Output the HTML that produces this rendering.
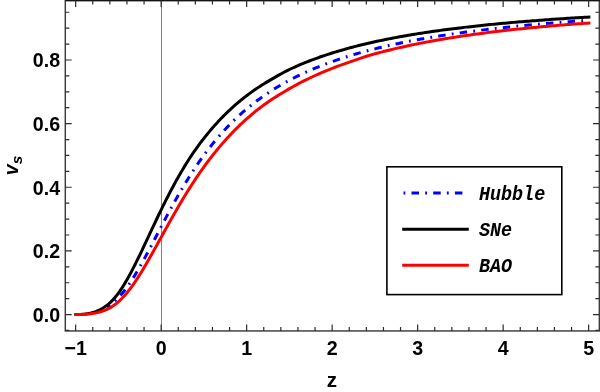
<!DOCTYPE html>
<html><head><meta charset="utf-8"><title>v_s vs z</title>
<style>
html,body{margin:0;padding:0;background:#fff;}
svg{display:block;}
text{font-family:"Liberation Sans",sans-serif;}
.m text{font-family:"Liberation Mono",monospace;}
</style></head>
<body>
<svg width="600" height="392" viewBox="0 0 600 392">
<rect x="0" y="0" width="600" height="392" fill="#ffffff"/>
<line x1="161.5" y1="0.50" x2="161.5" y2="330.95" stroke="#4a4a4a" stroke-width="0.7"/>
<g fill="none" stroke-width="3" stroke-linejoin="round">
<path d="M107.06 307.15 L107.78 306.68 L108.51 306.19 L109.23 305.67 L109.96 305.14 L110.68 304.58 L111.40 303.99 L112.13 303.38 L112.85 302.81 L113.58 302.21 L114.30 301.59 L115.03 300.95 L115.75 300.29 L116.48 299.60 L117.20 298.90 L117.93 298.17 L118.65 297.42 L119.73 296.26 L120.81 295.05 L121.88 293.79 L122.96 292.49 L124.04 291.14 L125.12 289.75 L126.19 288.31 L127.27 286.83 L128.35 285.31 L129.43 283.74 L130.51 282.14 L131.58 280.50 L132.66 278.82 L133.74 277.10 L134.82 275.36 L135.89 273.58 L136.97 271.77 L138.05 269.93 L139.13 268.06 L140.20 266.17 L141.28 264.26 L142.36 262.33 L143.44 260.37 L144.52 258.40 L145.59 256.41 L146.67 254.40 L147.75 252.38 L148.83 250.35 L149.90 248.31 L150.98 246.26 L152.06 244.20 L153.14 242.14 L154.22 240.08 L155.29 238.01 L156.37 235.94 L157.45 233.86 L158.53 231.79 L159.60 229.73 L160.68 227.66 L161.76 225.60 L162.84 223.55 L163.91 221.50 L164.99 219.46 L166.07 217.42 L167.15 215.40 L168.23 213.38 L169.30 211.38 L170.38 209.39 L171.46 207.41 L172.54 205.44 L173.61 203.49 L174.69 201.54 L175.77 199.62 L176.85 197.70 L177.93 195.81 L179.00 193.93 L180.08 192.06 L181.16 190.21 L182.24 188.38 L183.31 186.56 L184.39 184.76 L185.47 182.98 L186.55 181.21 L187.62 179.46 L188.70 177.73 L189.78 176.02 L190.86 174.32 L191.94 172.64 L193.01 170.98 L194.09 169.34 L195.17 167.72 L196.25 166.11 L197.32 164.52 L198.40 162.95 L199.48 161.40 L200.56 159.86 L201.64 158.35 L202.71 156.85 L203.79 155.36 L204.87 153.90 L205.95 152.45 L207.02 151.02 L208.10 149.61 L209.18 148.21 L210.26 146.83 L211.33 145.47 L212.41 144.12 L213.49 142.79 L214.57 141.47 L215.65 140.18 L216.72 138.89 L217.80 137.63 L218.88 136.38 L219.96 135.14 L221.03 133.92 L222.11 132.71 L223.19 131.52 L224.27 130.35 L225.35 129.19 L226.42 128.04 L227.50 126.91 L228.58 125.79 L229.66 124.68 L230.73 123.59 L231.81 122.51 L232.89 121.45 L233.97 120.39 L235.04 119.36 L236.12 118.33 L237.20 117.32 L238.28 116.32 L239.36 115.33 L240.43 114.35 L241.51 113.39 L242.59 112.43 L243.67 111.49 L244.74 110.56 L245.82 109.64 L246.90 108.73 L249.05 106.96 L251.20 105.22 L253.35 103.53 L255.50 101.87 L257.65 100.25 L259.81 98.68 L261.96 97.13 L264.11 95.63 L266.26 94.16 L268.41 92.72 L270.56 91.32 L272.71 89.94 L274.86 88.60 L277.01 87.29 L279.16 86.01 L281.32 84.75 L283.47 83.52 L285.62 82.32 L287.77 81.15 L289.92 80.00 L292.07 78.88 L294.22 77.77 L296.37 76.70 L298.52 75.64 L300.67 74.61 L302.82 73.60 L304.98 72.60 L307.13 71.63 L309.28 70.68 L311.43 69.75 L313.58 68.84 L315.73 67.94 L317.88 67.06 L320.03 66.20 L322.18 65.36 L324.33 64.53 L326.48 63.72 L328.64 62.92 L330.79 62.14 L332.94 61.37 L335.09 60.62 L337.24 59.88 L339.39 59.15 L341.54 58.44 L343.69 57.74 L345.84 57.05 L347.99 56.38 L350.15 55.72 L352.30 55.07 L354.45 54.43 L356.60 53.80 L358.75 53.18 L360.90 52.58 L363.05 51.98 L365.20 51.39 L367.35 50.82 L369.50 50.25 L371.65 49.69 L373.81 49.14 L375.96 48.61 L378.11 48.08 L380.26 47.55 L382.41 47.04 L384.56 46.54 L386.71 46.04 L388.86 45.55 L391.01 45.07 L393.16 44.60 L395.32 44.13 L397.47 43.67 L399.62 43.22 L401.77 42.78 L403.92 42.34 L406.07 41.91 L408.22 41.48 L410.37 41.06 L412.52 40.65 L414.67 40.24 L416.82 39.84 L418.98 39.45 L421.13 39.06 L423.28 38.68 L425.43 38.30 L427.58 37.93 L429.73 37.56 L431.88 37.20 L434.03 36.85 L436.18 36.50 L438.33 36.15 L440.48 35.81 L442.64 35.47 L444.79 35.14 L446.94 34.81 L449.09 34.49 L451.24 34.17 L453.39 33.86 L455.54 33.55 L457.69 33.24 L459.84 32.94 L461.99 32.64 L464.15 32.35 L466.30 32.06 L468.45 31.77 L470.60 31.49 L472.75 31.21 L474.90 30.94 L477.05 30.67 L479.20 30.40 L481.35 30.13 L483.50 29.87 L485.65 29.62 L487.81 29.36 L489.96 29.11 L492.11 28.86 L494.26 28.62 L496.41 28.38 L498.56 28.14 L500.71 27.90 L502.86 27.67 L505.01 27.44 L507.16 27.21 L509.32 26.99 L511.47 26.76 L513.62 26.54 L515.77 26.33 L517.92 26.11 L520.07 25.90 L522.22 25.69 L524.37 25.49 L526.52 25.28 L528.67 25.08 L530.82 24.88 L532.98 24.68 L535.13 24.49 L537.28 24.30 L539.43 24.11 L541.58 23.92 L543.73 23.73 L545.88 23.55 L548.03 23.37 L550.18 23.19 L552.33 23.01 L554.48 22.84 L556.64 22.66 L558.79 22.49 L560.94 22.32 L563.09 22.15 L565.24 21.99 L567.39 21.82 L569.54 21.66 L571.69 21.50 L573.84 21.34 L575.99 21.18 L578.15 21.03 L580.30 20.88 L582.45 20.72 L584.60 20.57 L586.75 20.42 L588.90 20.28" stroke="#0000ff" stroke-dasharray="1.8 6.2 7.5 6.2" stroke-dashoffset="11.77"/>
<path d="M75.90 314.50 L76.62 314.50 L77.35 314.50 L78.07 314.49 L78.80 314.47 L79.52 314.46 L80.25 314.43 L80.97 314.40 L81.70 314.36 L82.42 314.31 L83.15 314.26 L83.87 314.19 L84.59 314.12 L85.32 314.03 L86.04 313.94 L86.77 313.83 L87.49 313.71 L88.22 313.59 L88.94 313.45 L89.67 313.30 L90.39 313.13 L91.12 312.96 L91.84 312.77 L92.57 312.56 L93.29 312.35 L94.01 312.12 L94.74 311.88 L95.46 311.62 L96.19 311.35 L96.91 311.06 L97.64 310.76 L98.36 310.44 L99.09 310.11 L99.81 309.76 L100.54 309.39 L101.26 309.01 L101.98 308.61 L102.71 308.20 L103.43 307.77 L104.16 307.32 L104.88 306.85 L105.61 306.35 L106.33 305.83 L107.06 305.28 L107.78 304.70 L108.51 304.10 L109.23 303.47 L109.96 302.81 L110.68 302.13 L111.40 301.41 L112.13 300.67 L112.85 299.91 L113.58 299.11 L114.30 298.29 L115.03 297.44 L115.75 296.56 L116.48 295.66 L117.20 294.72 L117.93 293.77 L118.65 292.78 L119.73 291.27 L120.81 289.70 L121.88 288.08 L122.96 286.40 L124.04 284.67 L125.12 282.90 L126.19 281.07 L127.27 279.20 L128.35 277.29 L129.43 275.34 L130.51 273.34 L131.58 271.31 L132.66 269.25 L133.74 267.15 L134.82 265.03 L135.89 262.88 L136.97 260.70 L138.05 258.50 L139.13 256.28 L140.20 254.04 L141.28 251.79 L142.36 249.53 L143.44 247.25 L144.52 244.96 L145.59 242.67 L146.67 240.37 L147.75 238.07 L148.83 235.77 L149.90 233.47 L150.98 231.17 L152.06 228.87 L153.14 226.58 L154.22 224.29 L155.29 222.02 L156.37 219.75 L157.45 217.49 L158.53 215.24 L159.60 213.01 L160.68 210.79 L161.76 208.58 L162.84 206.39 L163.91 204.22 L164.99 202.06 L166.07 199.92 L167.15 197.80 L168.23 195.70 L169.30 193.62 L170.38 191.55 L171.46 189.51 L172.54 187.49 L173.61 185.48 L174.69 183.50 L175.77 181.54 L176.85 179.60 L177.93 177.69 L179.00 175.79 L180.08 173.92 L181.16 172.07 L182.24 170.24 L183.31 168.43 L184.39 166.65 L185.47 164.88 L186.55 163.14 L187.62 161.42 L188.70 159.73 L189.78 158.05 L190.86 156.40 L191.94 154.77 L193.01 153.17 L194.09 151.60 L195.17 150.05 L196.25 148.52 L197.32 147.02 L198.40 145.54 L199.48 144.08 L200.56 142.64 L201.64 141.23 L202.71 139.83 L203.79 138.46 L204.87 137.10 L205.95 135.76 L207.02 134.44 L208.10 133.13 L209.18 131.84 L210.26 130.56 L211.33 129.30 L212.41 128.05 L213.49 126.82 L214.57 125.59 L215.65 124.38 L216.72 123.19 L217.80 122.01 L218.88 120.85 L219.96 119.70 L221.03 118.57 L222.11 117.45 L223.19 116.35 L224.27 115.27 L225.35 114.20 L226.42 113.14 L227.50 112.10 L228.58 111.07 L229.66 110.05 L230.73 109.05 L231.81 108.06 L232.89 107.09 L233.97 106.13 L235.04 105.18 L236.12 104.24 L237.20 103.32 L238.28 102.41 L239.36 101.51 L240.43 100.62 L241.51 99.74 L242.59 98.87 L243.67 98.02 L244.74 97.18 L245.82 96.34 L246.90 95.52 L249.05 93.91 L251.20 92.35 L253.35 90.82 L255.50 89.32 L257.65 87.87 L259.81 86.45 L261.96 85.07 L264.11 83.72 L266.26 82.40 L268.41 81.11 L270.56 79.85 L272.71 78.60 L274.86 77.35 L277.01 76.11 L279.16 74.89 L281.32 73.69 L283.47 72.52 L285.62 71.39 L287.77 70.30 L289.92 69.26 L292.07 68.26 L294.22 67.28 L296.37 66.33 L298.52 65.39 L300.67 64.47 L302.82 63.58 L304.98 62.70 L307.13 61.84 L309.28 60.99 L311.43 60.17 L313.58 59.36 L315.73 58.57 L317.88 57.79 L320.03 57.03 L322.18 56.29 L324.33 55.55 L326.48 54.84 L328.64 54.13 L330.79 53.45 L332.94 52.77 L335.09 52.11 L337.24 51.45 L339.39 50.82 L341.54 50.19 L343.69 49.57 L345.84 48.97 L347.99 48.37 L350.15 47.79 L352.30 47.22 L354.45 46.66 L356.60 46.11 L358.75 45.56 L360.90 45.03 L363.05 44.51 L365.20 43.99 L367.35 43.49 L369.50 42.99 L371.65 42.50 L373.81 42.02 L375.96 41.55 L378.11 41.08 L380.26 40.63 L382.41 40.18 L384.56 39.74 L386.71 39.30 L388.86 38.87 L391.01 38.45 L393.16 38.04 L395.32 37.63 L397.47 37.23 L399.62 36.84 L401.77 36.45 L403.92 36.07 L406.07 35.69 L408.22 35.32 L410.37 34.95 L412.52 34.59 L414.67 34.24 L416.82 33.89 L418.98 33.55 L421.13 33.21 L423.28 32.88 L425.43 32.55 L427.58 32.23 L429.73 31.91 L431.88 31.59 L434.03 31.28 L436.18 30.98 L438.33 30.68 L440.48 30.38 L442.64 30.09 L444.79 29.80 L446.94 29.52 L449.09 29.24 L451.24 28.96 L453.39 28.69 L455.54 28.42 L457.69 28.16 L459.84 27.90 L461.99 27.64 L464.15 27.38 L466.30 27.13 L468.45 26.89 L470.60 26.64 L472.75 26.40 L474.90 26.16 L477.05 25.93 L479.20 25.70 L481.35 25.47 L483.50 25.25 L485.65 25.02 L487.81 24.81 L489.96 24.59 L492.11 24.38 L494.26 24.16 L496.41 23.96 L498.56 23.75 L500.71 23.55 L502.86 23.35 L505.01 23.15 L507.16 22.95 L509.32 22.76 L511.47 22.57 L513.62 22.38 L515.77 22.20 L517.92 22.01 L520.07 21.83 L522.22 21.65 L524.37 21.48 L526.52 21.30 L528.67 21.13 L530.82 20.96 L532.98 20.79 L535.13 20.63 L537.28 20.46 L539.43 20.30 L541.58 20.14 L543.73 19.98 L545.88 19.82 L548.03 19.67 L550.18 19.52 L552.33 19.37 L554.48 19.22 L556.64 19.07 L558.79 18.92 L560.94 18.78 L563.09 18.64 L565.24 18.50 L567.39 18.36 L569.54 18.22 L571.69 18.08 L573.84 17.95 L575.99 17.82 L578.15 17.68 L580.30 17.55 L582.45 17.43 L584.60 17.30 L586.75 17.17 L588.90 17.05" stroke="#000000" stroke-linecap="square"/>
<path d="M75.90 314.50 L76.62 314.50 L77.35 314.50 L78.07 314.49 L78.80 314.49 L79.52 314.48 L80.25 314.47 L80.97 314.45 L81.70 314.44 L82.42 314.41 L83.15 314.38 L83.87 314.35 L84.59 314.31 L85.32 314.27 L86.04 314.22 L86.77 314.17 L87.49 314.11 L88.22 314.04 L88.94 313.97 L89.67 313.89 L90.39 313.80 L91.12 313.71 L91.84 313.60 L92.57 313.49 L93.29 313.38 L94.01 313.25 L94.74 313.12 L95.46 312.98 L96.19 312.82 L96.91 312.66 L97.64 312.50 L98.36 312.32 L99.09 312.13 L99.81 311.93 L100.54 311.72 L101.26 311.51 L101.98 311.28 L102.71 311.04 L103.43 310.79 L104.16 310.54 L104.88 310.26 L105.61 309.97 L106.33 309.67 L107.06 309.34 L107.78 309.00 L108.51 308.64 L109.23 308.26 L109.96 307.87 L110.68 307.45 L111.40 307.01 L112.13 306.56 L112.85 306.08 L113.58 305.59 L114.30 305.07 L115.03 304.54 L115.75 303.98 L116.48 303.41 L117.20 302.81 L117.93 302.19 L118.65 301.56 L119.73 300.57 L120.81 299.54 L121.88 298.46 L122.96 297.33 L124.04 296.17 L125.12 294.96 L126.19 293.70 L127.27 292.40 L128.35 291.07 L129.43 289.69 L130.51 288.27 L131.58 286.81 L132.66 285.32 L133.74 283.79 L134.82 282.23 L135.89 280.63 L136.97 279.00 L138.05 277.34 L139.13 275.65 L140.20 273.94 L141.28 272.20 L142.36 270.43 L143.44 268.64 L144.52 266.83 L145.59 265.00 L146.67 263.16 L147.75 261.29 L148.83 259.41 L149.90 257.52 L150.98 255.61 L152.06 253.70 L153.14 251.77 L154.22 249.84 L155.29 247.89 L156.37 245.95 L157.45 244.00 L158.53 242.04 L159.60 240.08 L160.68 238.13 L161.76 236.17 L162.84 234.21 L163.91 232.26 L164.99 230.30 L166.07 228.36 L167.15 226.41 L168.23 224.48 L169.30 222.55 L170.38 220.62 L171.46 218.71 L172.54 216.80 L173.61 214.90 L174.69 213.02 L175.77 211.14 L176.85 209.27 L177.93 207.42 L179.00 205.58 L180.08 203.75 L181.16 201.93 L182.24 200.12 L183.31 198.33 L184.39 196.55 L185.47 194.79 L186.55 193.04 L187.62 191.30 L188.70 189.58 L189.78 187.88 L190.86 186.19 L191.94 184.51 L193.01 182.85 L194.09 181.20 L195.17 179.57 L196.25 177.96 L197.32 176.36 L198.40 174.78 L199.48 173.21 L200.56 171.66 L201.64 170.12 L202.71 168.60 L203.79 167.10 L204.87 165.61 L205.95 164.14 L207.02 162.68 L208.10 161.24 L209.18 159.81 L210.26 158.40 L211.33 157.00 L212.41 155.62 L213.49 154.26 L214.57 152.91 L215.65 151.57 L216.72 150.25 L217.80 148.94 L218.88 147.65 L219.96 146.37 L221.03 145.11 L222.11 143.86 L223.19 142.62 L224.27 141.40 L225.35 140.19 L226.42 139.00 L227.50 137.82 L228.58 136.65 L229.66 135.50 L230.73 134.36 L231.81 133.23 L232.89 132.12 L233.97 131.01 L235.04 129.92 L236.12 128.85 L237.20 127.78 L238.28 126.73 L239.36 125.69 L240.43 124.66 L241.51 123.64 L242.59 122.64 L243.67 121.64 L244.74 120.66 L245.82 119.69 L246.90 118.72 L249.05 116.84 L251.20 114.99 L253.35 113.19 L255.50 111.43 L257.65 109.70 L259.81 108.02 L261.96 106.37 L264.11 104.77 L266.26 103.22 L268.41 101.72 L270.56 100.26 L272.71 98.85 L274.86 97.46 L277.01 96.11 L279.16 94.79 L281.32 93.48 L283.47 92.19 L285.62 90.92 L287.77 89.65 L289.92 88.40 L292.07 87.18 L294.22 85.98 L296.37 84.81 L298.52 83.66 L300.67 82.54 L302.82 81.44 L304.98 80.36 L307.13 79.30 L309.28 78.26 L311.43 77.24 L313.58 76.24 L315.73 75.26 L317.88 74.30 L320.03 73.36 L322.18 72.44 L324.33 71.53 L326.48 70.64 L328.64 69.77 L330.79 68.91 L332.94 68.07 L335.09 67.24 L337.24 66.43 L339.39 65.64 L341.54 64.86 L343.69 64.09 L345.84 63.33 L347.99 62.58 L350.15 61.82 L352.30 61.06 L354.45 60.31 L356.60 59.56 L358.75 58.83 L360.90 58.10 L363.05 57.39 L365.20 56.70 L367.35 56.03 L369.50 55.38 L371.65 54.75 L373.81 54.15 L375.96 53.56 L378.11 52.98 L380.26 52.41 L382.41 51.84 L384.56 51.29 L386.71 50.74 L388.86 50.21 L391.01 49.68 L393.16 49.16 L395.32 48.65 L397.47 48.15 L399.62 47.65 L401.77 47.17 L403.92 46.69 L406.07 46.21 L408.22 45.75 L410.37 45.29 L412.52 44.84 L414.67 44.40 L416.82 43.96 L418.98 43.53 L421.13 43.11 L423.28 42.69 L425.43 42.28 L427.58 41.87 L429.73 41.47 L431.88 41.08 L434.03 40.69 L436.18 40.31 L438.33 39.93 L440.48 39.56 L442.64 39.20 L444.79 38.84 L446.94 38.48 L449.09 38.13 L451.24 37.79 L453.39 37.44 L455.54 37.11 L457.69 36.78 L459.84 36.45 L461.99 36.13 L464.15 35.81 L466.30 35.50 L468.45 35.19 L470.60 34.89 L472.75 34.59 L474.90 34.29 L477.05 34.00 L479.20 33.71 L481.35 33.43 L483.50 33.15 L485.65 32.87 L487.81 32.60 L489.96 32.33 L492.11 32.06 L494.26 31.80 L496.41 31.54 L498.56 31.28 L500.71 31.03 L502.86 30.78 L505.01 30.54 L507.16 30.29 L509.32 30.05 L511.47 29.82 L513.62 29.59 L515.77 29.35 L517.92 29.13 L520.07 28.90 L522.22 28.68 L524.37 28.46 L526.52 28.25 L528.67 28.03 L530.82 27.82 L532.98 27.61 L535.13 27.41 L537.28 27.21 L539.43 27.01 L541.58 26.81 L543.73 26.61 L545.88 26.42 L548.03 26.23 L550.18 26.04 L552.33 25.85 L554.48 25.67 L556.64 25.49 L558.79 25.31 L560.94 25.13 L563.09 24.96 L565.24 24.78 L567.39 24.61 L569.54 24.44 L571.69 24.28 L573.84 24.11 L575.99 23.95 L578.15 23.79 L580.30 23.63 L582.45 23.47 L584.60 23.32 L586.75 23.16 L588.90 23.01" stroke="#ff0000" stroke-linecap="square"/>
</g>
<rect x="65.30" y="0.50" width="534.05" height="330.45" fill="none" stroke="#3c3c3c" stroke-width="1.45"/>
<line x1="65.30" y1="0.50" x2="600" y2="0.50" stroke="#141414" stroke-width="1.45"/>
<path d="M75.65 330.95 v-6.40 M75.65 0.50 v6.40 M92.75 330.95 v-4.00 M92.75 0.50 v4.00 M109.85 330.95 v-4.00 M109.85 0.50 v4.00 M126.95 330.95 v-4.00 M126.95 0.50 v4.00 M144.05 330.95 v-4.00 M144.05 0.50 v4.00 M161.15 330.95 v-6.40 M161.15 0.50 v6.40 M178.25 330.95 v-4.00 M178.25 0.50 v4.00 M195.35 330.95 v-4.00 M195.35 0.50 v4.00 M212.45 330.95 v-4.00 M212.45 0.50 v4.00 M229.55 330.95 v-4.00 M229.55 0.50 v4.00 M246.65 330.95 v-6.40 M246.65 0.50 v6.40 M263.75 330.95 v-4.00 M263.75 0.50 v4.00 M280.85 330.95 v-4.00 M280.85 0.50 v4.00 M297.95 330.95 v-4.00 M297.95 0.50 v4.00 M315.05 330.95 v-4.00 M315.05 0.50 v4.00 M332.15 330.95 v-6.40 M332.15 0.50 v6.40 M349.25 330.95 v-4.00 M349.25 0.50 v4.00 M366.35 330.95 v-4.00 M366.35 0.50 v4.00 M383.45 330.95 v-4.00 M383.45 0.50 v4.00 M400.55 330.95 v-4.00 M400.55 0.50 v4.00 M417.65 330.95 v-6.40 M417.65 0.50 v6.40 M434.75 330.95 v-4.00 M434.75 0.50 v4.00 M451.85 330.95 v-4.00 M451.85 0.50 v4.00 M468.95 330.95 v-4.00 M468.95 0.50 v4.00 M486.05 330.95 v-4.00 M486.05 0.50 v4.00 M503.15 330.95 v-6.40 M503.15 0.50 v6.40 M520.25 330.95 v-4.00 M520.25 0.50 v4.00 M537.35 330.95 v-4.00 M537.35 0.50 v4.00 M554.45 330.95 v-4.00 M554.45 0.50 v4.00 M571.55 330.95 v-4.00 M571.55 0.50 v4.00 M588.65 330.95 v-6.40 M588.65 0.50 v6.40 M65.30 330.46 h4.00 M599.35 330.46 h-4.00 M65.30 314.55 h6.40 M599.35 314.55 h-6.40 M65.30 298.64 h4.00 M599.35 298.64 h-4.00 M65.30 282.73 h4.00 M599.35 282.73 h-4.00 M65.30 266.82 h4.00 M599.35 266.82 h-4.00 M65.30 250.91 h6.40 M599.35 250.91 h-6.40 M65.30 235.00 h4.00 M599.35 235.00 h-4.00 M65.30 219.09 h4.00 M599.35 219.09 h-4.00 M65.30 203.18 h4.00 M599.35 203.18 h-4.00 M65.30 187.27 h6.40 M599.35 187.27 h-6.40 M65.30 171.36 h4.00 M599.35 171.36 h-4.00 M65.30 155.45 h4.00 M599.35 155.45 h-4.00 M65.30 139.54 h4.00 M599.35 139.54 h-4.00 M65.30 123.63 h6.40 M599.35 123.63 h-6.40 M65.30 107.72 h4.00 M599.35 107.72 h-4.00 M65.30 91.81 h4.00 M599.35 91.81 h-4.00 M65.30 75.90 h4.00 M599.35 75.90 h-4.00 M65.30 59.99 h6.40 M599.35 59.99 h-6.40 M65.30 44.08 h4.00 M599.35 44.08 h-4.00 M65.30 28.17 h4.00 M599.35 28.17 h-4.00 M65.30 12.26 h4.00 M599.35 12.26 h-4.00" fill="none" stroke="#2c2c2c" stroke-width="1.2"/>
<g style="will-change:opacity" font-size="20.6px" font-weight="bold" fill="#000"><text transform="translate(75.65 354.8) scale(0.955 1)" text-anchor="middle">−1</text><text transform="translate(161.15 354.8) scale(0.955 1)" text-anchor="middle">0</text><text transform="translate(246.65 354.8) scale(0.955 1)" text-anchor="middle">1</text><text transform="translate(332.15 354.8) scale(0.955 1)" text-anchor="middle">2</text><text transform="translate(417.65 354.8) scale(0.955 1)" text-anchor="middle">3</text><text transform="translate(503.15 354.8) scale(0.955 1)" text-anchor="middle">4</text><text transform="translate(588.65 354.8) scale(0.955 1)" text-anchor="middle">5</text><text transform="translate(60.2 321.95) scale(0.955 1)" text-anchor="end">0.0</text><text transform="translate(60.2 258.31) scale(0.955 1)" text-anchor="end">0.2</text><text transform="translate(60.2 194.67) scale(0.955 1)" text-anchor="end">0.4</text><text transform="translate(60.2 131.03) scale(0.955 1)" text-anchor="end">0.6</text><text transform="translate(60.2 67.39) scale(0.955 1)" text-anchor="end">0.8</text>
<text x="332" y="386.5" text-anchor="middle">z</text>
<g transform="translate(17.9 165.3) rotate(-90)"><text x="-10.0" y="0" font-size="19.6px" font-style="italic">v</text><text x="1.0" y="3.9" font-size="15.5px" font-style="italic">s</text></g>
</g>
<rect x="386.9" y="166.8" width="174.9" height="127.8" fill="#fff" stroke="#000" stroke-width="1.6"/>
<g fill="none" stroke-width="3">
<path d="M402.2 193 H466" stroke="#0000ff" stroke-dasharray="1.8 6.2 7.5 6.2" stroke-dashoffset="-1.3"/>
<path d="M402.2 229.2 H468.8" stroke="#000"/>
<path d="M402.2 265.3 H468.8" stroke="#ff0000"/>
</g>
<g style="will-change:opacity" font-size="18.7px" font-weight="bold" font-style="italic" fill="#000" class="m">
<text transform="translate(478.9 199.7) scale(0.985 1.06)">Hubble</text>
<text transform="translate(478.9 235.8) scale(0.985 1.06)">SNe</text>
<text transform="translate(478.9 271.9) scale(0.985 1.06)">BAO</text>
</g>
</svg>
</body></html>
